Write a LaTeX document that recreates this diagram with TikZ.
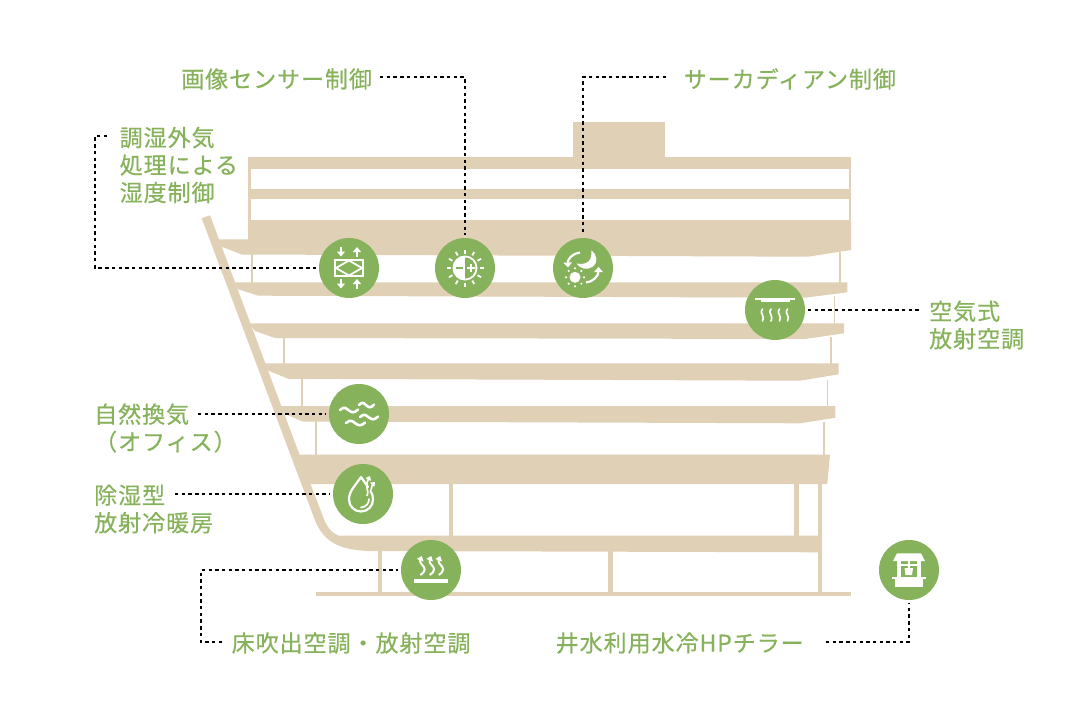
\documentclass[tikz,border=0pt]{standalone}
\usepackage{fontspec}
\setmainfont[LetterSpace=4,FakeBold=0.45]{Noto Sans CJK JP}
\usetikzlibrary{arrows.meta}
\definecolor{beige}{HTML}{E0D0B5}
\definecolor{leaf}{HTML}{86B25B}
\tikzset{
  x=1pt,y=-1pt,
  wall/.style={fill=beige,draw=none},
  hub/.style={circle,fill=leaf,draw=none,minimum size=60pt,inner sep=0pt,outer sep=3pt},
  lead/.style={draw=black,line width=2.2pt,dash pattern=on 3.4pt off 3.3pt},
  lbl/.style={text=leaf,anchor=west,inner sep=0pt,align=left,font=\fontsize{23.05pt}{27.5pt}\selectfont},
  ink/.style={draw=white,line width=2.2pt,line cap=round,line join=round},
  inkthin/.style={draw=white,line width=1.7pt,line cap=round,line join=round},
  inkarrow/.style={draw=white,line width=2.2pt,-{Triangle[length=5pt,width=8pt]}},
  solid/.style={fill=white,draw=none},
}
\begin{document}
\begin{tikzpicture}
\useasboundingbox (0,0) rectangle (1080,720);
% building
\fill[wall] (573.3,122) rectangle (664.7,158);
\fill[wall] (248,156.7) rectangle (851,168.5);
\fill[wall] (248,189.3) rectangle (851,199.3);
\fill[wall] (248,156.7) rectangle (251,222);
\fill[wall] (849,156.7) rectangle (851,222);
\fill[wall] (218,239.3) -- (248,239.3) -- (248,220) -- (851,220) -- (851,250) -- (808,256.7) -- (241.7,254.5) -- (221.7,246.7) -- cycle;
\fill[wall] (233,282.3) -- (847.3,282.3) -- (847.3,292.3) -- (805,297.7) -- (258.3,295.7) -- (238.3,289.3) -- cycle;
\fill[wall] (249,323.3) -- (844,323.3) -- (844,333.3) -- (805,339) -- (275,338) -- (255,331) -- cycle;
\fill[wall] (264,363.3) -- (838.7,363.3) -- (838.7,374.3) -- (800,380.7) -- (288.3,378.8) -- (266.7,370) -- cycle;
\fill[wall] (280,406) -- (835.3,406) -- (835.3,417.7) -- (800,423.3) -- (302.7,421.5) -- (285,414) -- cycle;
\fill[wall] (294,454.7) -- (830,454.7) -- (827.3,484) -- (305,484) -- cycle;
\fill[wall] (201.7,218.3) -- (210,215.3) -- (310.5,484) -- (322,514) .. controls (326,526) and (331,533) .. (339,535.7) -- (820,535.7) -- (820,552.3) -- (370,551) .. controls (345,550) and (327,546) .. (316,523) -- cycle;
\fill[wall] (316,592.3) rectangle (851,596);
% columns
\fill[wall] (251,254) rectangle (252.7,283);
\fill[wall] (839.3,252) rectangle (840.7,283);
\fill[wall] (834,296) rectangle (835,324);
\fill[wall] (282.7,337) rectangle (285.3,364);
\fill[wall] (830,337) rectangle (831.7,364);
\fill[wall] (301,378) rectangle (303,407);
\fill[wall] (827.3,380) rectangle (828.3,407);
\fill[wall] (314.7,421) rectangle (316.7,455);
\fill[wall] (823.3,422) rectangle (825,455);
\fill[wall] (449,484) rectangle (452.7,536);
\fill[wall] (794,484) rectangle (799,536);
\fill[wall] (818.3,484) rectangle (821.7,593);
\fill[wall] (378.3,551) rectangle (382,593);
\fill[wall] (608,551) rectangle (613,593);
% labels
\node[lbl] (tCam) at (181,79) {画像センサー制御};
\node[lbl] (tCirc) at (683.5,79) {サーカディアン制御};
\node[lbl] (tOut) at (119.5,165) {調湿外気\\処理による\\湿度制御};
\node[lbl] (tRad) at (929,325) {空気式\\放射空調};
\node[lbl] (tNat) at (94,428) {自然換気\\（オフィス）};
\node[lbl] (tDeh) at (94,509) {除湿型\\放射冷暖房};
\node[lbl] (tFloor) at (231.5,643) {床吹出空調・放射空調};
\node[lbl] (tWell) at (555.5,643) {井水利用水冷HPチラー};
% hubs
\coordinate (fCam) at (380,77);
\coordinate (fCirc) at (666,77);
\coordinate (fOut) at (107,136);
\coordinate (fRad) at (921,310);
\coordinate (fNat) at (198,414);
\coordinate (fDeh) at (175,494);
\coordinate (fFloor) at (222,642);
\coordinate (fWell) at (826,642);
\node[hub] (nOut) at (349,268) {};
\node[hub] (nCam) at (465,268) {};
\node[hub] (nCirc) at (583,268) {};
\node[hub] (nRad) at (775,310) {};
\node[hub] (nNat) at (359,414) {};
\node[hub] (nDeh) at (363,494) {};
\node[hub] (nFloor) at (431,570) {};
\node[hub] (nWell) at (909,570) {};
% connectors
\draw[lead] (fCam) -| (nCam.north);
\draw[lead] (fCirc) -| (nCirc.north);
\draw[lead] (fOut) -- (95,136) -- (95,268) -- (nOut.west);
\draw[lead] (nRad.east) -- (fRad);
\draw[lead] (fNat) -- (nNat.west);
\draw[lead] (fDeh) -- (nDeh.west);
\draw[lead] (fFloor) -- (201,642) -- (201,570) -- (nFloor.west);
\draw[lead] (fWell) -| (nWell.south);
% icon: humidity exchange
\draw[white,line width=2.2pt] (335,260) rectangle (363,276);
\draw[white,line width=1.8pt,line join=miter] (336,268) -- (349,260.5) -- (362,268) -- (349,275.5) -- cycle;
\draw[inkarrow] (341,247) -- (341,256.5);
\draw[inkarrow] (357,256.5) -- (357,247);
\draw[inkarrow] (341,279) -- (341,288.5);
\draw[inkarrow] (357,288.5) -- (357,279);
% icon: image sensor
\foreach \a in {0,30,...,330}
  \draw[white,line width=1.8pt] (465,268) ++(\a:14.5) -- ++(\a:4);
\fill[white] (465,268) circle[radius=12.5pt];
\fill[leaf] (465,257.5) .. controls (471,257.5) and (475.5,262) .. (475.5,268) .. controls (475.5,274) and (471,278.5) .. (465,278.5) -- cycle;
\draw[white,line width=1.8pt] (467,268) -- (475,268) (471,264) -- (471,272);
\draw[leaf,line width=2.2pt] (456,268) -- (462.5,268);
% icon: circadian
\fill[white] (591.5,250.5) .. controls (597.5,255) and (598,263) .. (593,266.5) .. controls (587.5,270.5) and (580,269) .. (576.5,263.5) .. controls (583,265) and (588.5,263) .. (590.3,259) .. controls (591.5,256) and (591.5,254) .. (591.5,250.5) -- cycle;
\draw[inkarrow,-{Triangle[length=5pt,width=8.5pt]}] (580,252.5) .. controls (573,253) and (567.5,259) .. (568,267.5);
\draw[inkarrow,-{Triangle[length=5pt,width=8.5pt]}] (586,282.5) .. controls (593,282) and (598.5,276) .. (598.5,267);
\fill[white] (575,277.3) circle[radius=5.5pt];
\foreach \a in {0,45,...,315}
  \fill[white] (575,277.3) ++(\a:9) circle[radius=1.2pt];
% icon: air radiant
\fill[white] (755,298) rectangle (795,300);
\fill[white] (761,300) rectangle (790,302);
\foreach \q in {762.5,771,779.5,787.5}
  \draw[inkthin] (\q,309) .. controls (\q-2,312) and (\q-1,313) .. (\q,315) .. controls (\q+1,317) and (\q+1,319) .. (\q,321);
% icon: natural ventilation
\foreach \q/\r/\w in {359/405/15,340/410/18,360/417/18,346/423/19}
  \draw[ink,line width=2.6pt] (\q,\r) .. controls (\q+0.25*\w,\r-4.5) and (\q+0.4*\w,\r-1) .. (\q+0.5*\w,\r+0.5) .. controls (\q+0.65*\w,\r+2.5) and (\q+0.8*\w,\r+3.5) .. (\q+\w,\r-0.5);
% icon: dehumidifying
\draw[ink] (368,487) .. controls (366,484) and (363,480) .. (361,477) .. controls (355,486) and (349,491) .. (349,499.5) .. controls (349,506.5) and (354.5,511.5) .. (361,511.5) .. controls (367.5,511.5) and (373,506.5) .. (373,499.5) .. controls (373,496) and (372,493) .. (370.5,491);
\draw[inkthin] (361,507.5) .. controls (365.5,507) and (369,504) .. (369,499);
\draw[inkthin,-{Triangle[length=4pt,width=6pt]},line cap=butt] (367,496) .. controls (370,491) and (364,488) .. (370,476);
\draw[inkthin,-{Triangle[length=4pt,width=6pt]},line cap=butt] (371,490) .. controls (372,487) and (372,485) .. (375,482);
% icon: floor
\fill[white] (414,578.7) rectangle (448.3,583);
\foreach \q in {422.3,431.7,440.7}
  \draw[inkthin,line width=2pt,-{Triangle[length=4.5pt,width=7pt]},line cap=butt] (\q-2,575) .. controls (\q+4,571) and (\q+3,568) .. (\q,565) .. controls (\q-3,562) and (\q-2,560) .. (\q-0.5,556);
% icon: well
\fill[white] (897,553.3) -- (921,553.3) -- (925,561) -- (893,561) -- cycle;
\fill[white] (897.3,560) rectangle (901,577);
\fill[white] (917,560) rectangle (920.7,577);
\fill[white] (900,563.5) rectangle (918,566);
\fill[white] (908,560) rectangle (910,568);
\fill[white] (904.5,568) -- (913,568) -- (912,575) -- (905.5,575) -- cycle;
\fill[white] (892.3,576.7) rectangle (925.7,579.3);
\fill[white] (895.3,579.3) rectangle (922.7,586.7);
\end{tikzpicture}
\end{document}
